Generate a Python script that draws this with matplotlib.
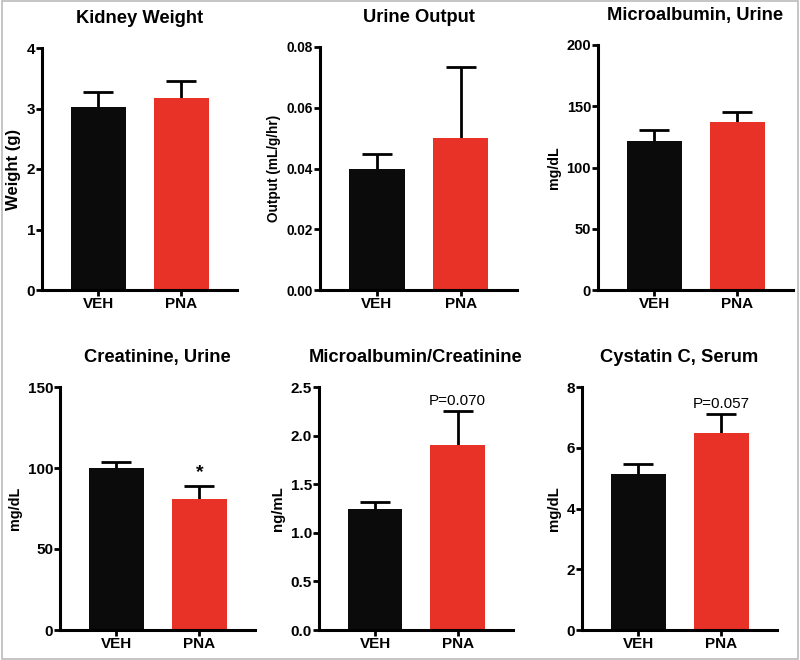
import matplotlib.pyplot as plt
from matplotlib.patches import Rectangle

plt.rcParams['font.family'] = ['Liberation Sans', 'DejaVu Sans']

groups = ["VEH", "PNA"]
titles = ["Kidney Weight", "Urine Output", "Microalbumin, Urine",
          "Creatinine, Urine", "Microalbumin/Creatinine", "Cystatin C, Serum"]
ylabels = ["Weight (g)", "Output (mL/g/hr)", "mg/dL", "mg/dL", "ng/mL", "mg/dL"]
means = [[3.02, 3.18], [0.040, 0.050], [122, 137],
         [100, 81], [1.24, 1.90], [5.15, 6.50]]
sems = [[0.26, 0.27], [0.0047, 0.0235], [9, 8],
        [4, 8], [0.08, 0.35], [0.33, 0.60]]
ymax = [4, 0.08, 200, 150, 2.5, 8]
yticks = [[0, 1, 2, 3, 4],
          [0.0, 0.02, 0.04, 0.06, 0.08],
          [0, 50, 100, 150, 200],
          [0, 50, 100, 150],
          [0.0, 0.5, 1.0, 1.5, 2.0, 2.5],
          [0, 2, 4, 6, 8]]
ytick_fmt = ["{:.0f}", "{:.2f}", "{:.0f}", "{:.0f}", "{:.1f}", "{:.0f}"]
notes = ["", "", "", "*", "P=0.070", "P=0.057"]

colors = ["#0b0b0b", "#e83127"]
ylabel_sizes = [12, 9.8, 10.2, 10.4, 10.8, 10.8]
ytick_sizes = [11, 9.8, 10.5, 11, 11, 11]

# axes boxes in pixels: left, right, top, bottom
boxes = [(42, 237, 48, 290), (320, 517, 47, 290), (598, 793, 45, 290),
         (60, 255, 387, 630), (319, 513, 387, 630), (582, 777, 387, 630)]

W, H = 800, 660
fig = plt.figure(figsize=(8, 6.6), dpi=100)
fig.patches.append(Rectangle((0.002, 0.002), 0.996, 0.996, transform=fig.transFigure,
                             fill=False, edgecolor="#bbbbbb", linewidth=1.2))

for i in range(6):
    l, r, t, b = boxes[i]
    ax = fig.add_axes([l / W, 1 - b / H, (r - l) / W, (b - t) / H])
    x = [0, 1]
    # error bars sit behind the bars so only the upper half shows
    ax.errorbar(x, means[i], yerr=sems[i], fmt="none", ecolor="black",
                elinewidth=2, capsize=11, capthick=2, zorder=1)
    ax.bar(x, means[i], width=0.66, color=colors, zorder=2)
    ax.set_xlim(-0.68, 1.67)
    ax.set_ylim(0, ymax[i])
    ax.set_yticks(yticks[i])
    ax.set_yticklabels([ytick_fmt[i].format(v) for v in yticks[i]],
                       fontweight="bold", fontsize=ytick_sizes[i])
    ax.set_xticks(x)
    ax.set_xticklabels(groups, fontweight="bold", fontsize=11)
    ax.set_ylabel(ylabels[i], fontweight="bold", fontsize=ylabel_sizes[i], labelpad=4)
    ax.set_title(titles[i], fontweight="bold", fontsize=13.2, pad=18)
    for s in ["top", "right"]:
        ax.spines[s].set_visible(False)
    for s in ["left", "bottom"]:
        ax.spines[s].set_linewidth(2.2)
    ax.tick_params(width=2, length=4, pad=1)
    if notes[i]:
        top = means[i][1] + sems[i][1]
        if notes[i] == "*":
            ax.text(1, top + ymax[i] * 0.02, notes[i], ha="center", va="bottom",
                    fontsize=14, fontweight="bold")
        else:
            ax.text(1, top + ymax[i] * 0.015, notes[i], ha="center", va="bottom",
                    fontsize=11)

fig.savefig("out.png", dpi=100)
